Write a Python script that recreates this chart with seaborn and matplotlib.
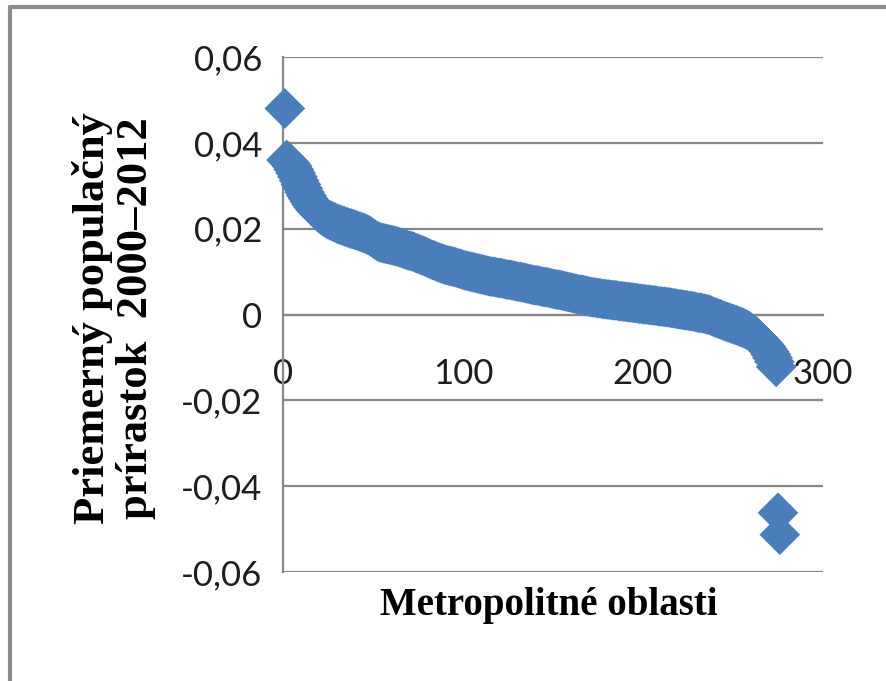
import matplotlib
matplotlib.use("Agg")
import matplotlib.pyplot as plt
from matplotlib.lines import Line2D
import seaborn as sns
import pandas as pd

# Average population growth 2000-2012 of metropolitan areas, sorted descending
growth = [
    0.0480, 0.0360, 0.0356, 0.0352, 0.0346, 0.0338, 0.0330, 0.0321, 0.0312, 0.0303,
    0.0294, 0.0285, 0.0277, 0.0270, 0.0263, 0.0256, 0.0250, 0.0245, 0.0240, 0.0236,
    0.0233, 0.0230, 0.0227, 0.0224, 0.0222, 0.0220, 0.0218, 0.0216, 0.0214, 0.0212,
    0.0210, 0.0209, 0.0207, 0.0206, 0.0204, 0.0203, 0.0201, 0.0200, 0.0199, 0.0197,
    0.0196, 0.0194, 0.0193, 0.0191, 0.0190, 0.0188, 0.0186, 0.0184, 0.0181, 0.0178,
    0.0175, 0.0172, 0.0170, 0.0168, 0.0167, 0.0166, 0.0165, 0.0164, 0.0163, 0.0162,
    0.0161, 0.0160, 0.0159, 0.0158, 0.0156, 0.0155, 0.0153, 0.0152, 0.0150, 0.0149,
    0.0148, 0.0147, 0.0145, 0.0143, 0.0142, 0.0140, 0.0138, 0.0137, 0.0135, 0.0133,
    0.0131, 0.0129, 0.0127, 0.0126, 0.0124, 0.0122, 0.0121, 0.0119, 0.0118, 0.0116,
    0.0115, 0.0114, 0.0113, 0.0112, 0.0111, 0.0110, 0.0108, 0.0107, 0.0106, 0.0104,
    0.0103, 0.0102, 0.0101, 0.0100, 0.0099, 0.0098, 0.0097, 0.0096, 0.0095, 0.0094,
    0.0093, 0.0092, 0.0091, 0.0090, 0.0089, 0.0088, 0.0088, 0.0087, 0.0086, 0.0085,
    0.0085, 0.0084, 0.0083, 0.0082, 0.0081, 0.0081, 0.0080, 0.0079, 0.0078, 0.0077,
    0.0076, 0.0076, 0.0075, 0.0074, 0.0073, 0.0072, 0.0071, 0.0070, 0.0069, 0.0068,
    0.0068, 0.0067, 0.0066, 0.0065, 0.0064, 0.0064, 0.0063, 0.0062, 0.0061, 0.0060,
    0.0059, 0.0058, 0.0058, 0.0057, 0.0056, 0.0055, 0.0054, 0.0053, 0.0052, 0.0051,
    0.0050, 0.0049, 0.0048, 0.0047, 0.0046, 0.0046, 0.0045, 0.0044, 0.0043, 0.0042,
    0.0041, 0.0040, 0.0040, 0.0039, 0.0038, 0.0038, 0.0037, 0.0036, 0.0036, 0.0035,
    0.0035, 0.0034, 0.0034, 0.0033, 0.0033, 0.0032, 0.0031, 0.0031, 0.0030, 0.0030,
    0.0029, 0.0029, 0.0028, 0.0028, 0.0027, 0.0027, 0.0026, 0.0025, 0.0025, 0.0024,
    0.0024, 0.0023, 0.0023, 0.0022, 0.0022, 0.0021, 0.0021, 0.0020, 0.0019, 0.0019,
    0.0018, 0.0018, 0.0017, 0.0017, 0.0016, 0.0015, 0.0015, 0.0014, 0.0013, 0.0012,
    0.0012, 0.0011, 0.0010, 0.0010, 0.0009, 0.0008, 0.0008, 0.0007, 0.0006, 0.0005,
    0.0004, 0.0004, 0.0003, 0.0002, 0.0001, 0.0000, -0.0001, -0.0003, -0.0005, -0.0007,
    -0.0008, -0.0010, -0.0011, -0.0013, -0.0015, -0.0016, -0.0018, -0.0019, -0.0021, -0.0022,
    -0.0024, -0.0025, -0.0027, -0.0029, -0.0030, -0.0032, -0.0034, -0.0036, -0.0039, -0.0042,
    -0.0045, -0.0048, -0.0052, -0.0056, -0.0060, -0.0064, -0.0069, -0.0074, -0.0080, -0.0086,
    -0.0093, -0.0101, -0.0110, -0.0122, -0.0462, -0.0513,
]
rank = list(range(1, len(growth) + 1))

x_ticks = [0, 100, 200, 300]
x_tick_labels = ["0", "100", "200", "300"]
y_ticks = [-0.06, -0.04, -0.02, 0, 0.02, 0.04, 0.06]
y_tick_labels = ["-0,06", "-0,04", "-0,02", "0", "0,02", "0,04", "0,06"]

y_label = "Priemerný populačný\nprírastok  2000–2012"
x_label = "Metropolitné oblasti"

sns.set_style("white")
plt.rcParams["font.family"] = ["Lato", "DejaVu Sans"]

GRAY = "#878787"
BLUE = "#4A7EBB"

fig = plt.figure(figsize=(8.87, 6.81), dpi=100)
ax = fig.add_axes([283 / 887, (681 - 572) / 681, 540 / 887, 515 / 681])

df = pd.DataFrame({"rank": rank, "growth": growth})
sns.scatterplot(data=df, x="rank", y="growth", marker="D", s=430,
                color=BLUE, edgecolor="none", linewidth=0, ax=ax, zorder=3,
                clip_on=False)

ax.set_xlim(0, 300)
ax.set_ylim(-0.06, 0.06)

for side in ["top", "right"]:
    ax.spines[side].set_visible(False)
ax.spines["left"].set_color(GRAY)
ax.spines["left"].set_linewidth(1.6)
ax.spines["bottom"].set_color(GRAY)
ax.spines["bottom"].set_linewidth(1.6)
ax.spines["bottom"].set_position(("data", 0))

ax.yaxis.grid(True, color=GRAY, linewidth=1.6)
ax.xaxis.grid(False)
ax.set_axisbelow(True)

ax.set_xticks(x_ticks)
ax.set_xticklabels(x_tick_labels)
ax.set_yticks(y_ticks)
ax.set_yticklabels(y_tick_labels)

ax.tick_params(axis="x", direction="out", length=6, width=1.6, color=GRAY,
               pad=25, labelsize=25, labelcolor="#1e1e1e")
ax.tick_params(axis="y", direction="out", length=6, width=1.6, color=GRAY,
               pad=9, labelsize=25, labelcolor="#1e1e1e")
ax.set_xlabel("")
ax.set_ylabel("")

fig.text(114 / 887, 1 - 318 / 681, y_label, rotation=90, ha="center",
         va="center", multialignment="center", fontsize=32,
         fontweight="bold", family=["Liberation Serif", "DejaVu Serif"],
         linespacing=1.1, color="black")
fig.text(549 / 887, 1 - 606 / 681, x_label, ha="center", va="center",
         fontsize=28, fontweight="bold",
         family=["Liberation Serif", "DejaVu Serif"], color="black")

# outer chart frame (top and left edges visible)
fig.add_artist(Line2D([10 / 887, 1.0], [1 - 7 / 681, 1 - 7 / 681],
                      transform=fig.transFigure, color="#8c8c8c", linewidth=3))
fig.add_artist(Line2D([10 / 887, 10 / 887], [1 - 7 / 681, 0.0],
                      transform=fig.transFigure, color="#8c8c8c", linewidth=3))

fig.savefig("out.png", dpi=100)
